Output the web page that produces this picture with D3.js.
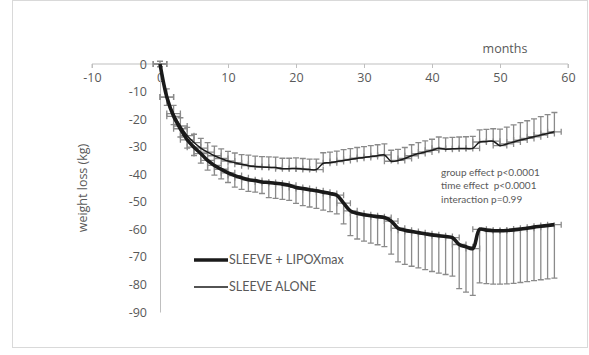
<!DOCTYPE html>
<html>
  <head>
    <meta charset="utf-8">
    <title>weight loss</title>
    <script src="https://d3js.org/d3.v7.min.js"></script>
    <style>
      body { margin: 0; background: #fff; }
    </style>
  </head>
  <body>
    <svg width="589" height="355"></svg>

    <script>
      // data (months after surgery, weight change in kg)
      const months = [0, 1, 2, 3, 4, 5, 6, 7, 8, 9, 10, 11, 12, 13, 14, 15, 16, 17, 18, 19,
        20, 21, 22, 23, 24, 25, 26, 27, 28, 29, 30, 31, 32, 33, 34, 35, 36, 37, 38, 39,
        40, 41, 42, 43, 44, 45, 46, 47, 48, 49, 50, 51, 52, 53, 54, 55, 56, 57, 58];

      const lipox = [0, -12, -19, -23.5, -27.5, -30.2, -32.5, -35, -36.8, -38.2,
        -39.5, -40.5, -41.3, -42, -42.3, -42.8, -43, -43.3, -43.6, -44,
        -44.8, -45.2, -45.6, -46, -46.5, -47, -47.6, -50.5, -53.3, -54.2,
        -54.7, -55.1, -55.4, -55.7, -57, -59.6, -60.3, -60.8, -61.2, -61.6,
        -62, -62.3, -62.6, -63, -65.5, -66.3, -67, -60, -60.3, -60.5,
        -60.5, -60.4, -60.2, -59.9, -59.6, -59.2, -58.9, -58.6, -58.3];
      const lipoxErr = [1, 3, 3, 3, 3, 3, 3.5, 3.5, 3.5, 3.5,
        3.5, 4.2, 4.2, 4.2, 4.2, 4.2, 5.5, 5.5, 5.5, 5.5,
        5.8, 6.2, 6.3, 6.4, 6.5, 6.6, 6.8, 7.5, 9, 9.3,
        9.6, 9.9, 10.2, 10.6, 12, 12.2, 12.4, 12.6, 12.8, 13,
        13.3, 13.6, 13.8, 14, 16, 16.5, 17, 19.4, 19.4, 19.4,
        19.4, 19.4, 19.4, 19.4, 19.4, 19.4, 19.4, 19.4, 19.4];

      const alone = [0, -12, -18, -22.5, -26, -28.5, -30.5, -32, -33.3, -34.3,
        -35.2, -35.8, -36.4, -36.9, -37.2, -37.4, -37.5, -37.6, -38, -38,
        -37.9, -38.1, -38.3, -38.3, -36, -35.8, -35.4, -35, -34.6, -34.2,
        -33.9, -33.6, -33.3, -33, -35.3, -35, -34.3, -33.3, -32.5, -31.9,
        -31.3, -30.6, -30.9, -30.8, -30.7, -30.7, -30.6, -28.3, -28.1, -28,
        -29.6, -29, -28.3, -27.6, -27, -26.4, -25.8, -25.2, -24.6];
      const aloneErr = [1, 3, 3, 3, 3, 3, 3.5, 3.5, 3.5, 3.5,
        3.5, 3.5, 3.5, 3.8, 3.8, 3.8, 3.8, 3.8, 3.8, 3.8,
        3.8, 3.8, 3.8, 3.8, 3.8, 3.8, 3.8, 3.9, 3.9, 3.9,
        3.9, 4, 4, 4, 4, 4, 4, 4, 4, 4,
        4, 4.1, 4.1, 4.2, 4.2, 4.3, 4.3, 4.4, 4.4, 4.5,
        6, 6.1, 6.2, 6.3, 6.4, 6.5, 6.7, 6.8, 7];
      const monthErr = 1;

      const xTicks = [-10, 0, 10, 20, 30, 40, 50, 60];
      const yTicks = [0, -10, -20, -30, -40, -50, -60, -70, -80, -90];
      const seriesNames = ["SLEEVE + LIPOXmax", "SLEEVE ALONE"];
      const notes = ["group effect p<0.0001", "time effect  p<0.0001", "interaction p=0.99"];

      const svg = d3.select("svg");

      // chart border
      svg.append("rect")
        .attr("x", 12.5).attr("y", 0.5)
        .attr("width", 575).attr("height", 347)
        .attr("fill", "none")
        .attr("stroke", "#d9d9d9");

      const x = d3.scaleLinear().domain([-10, 60]).range([92, 568]);
      const y = d3.scaleLinear().domain([-90, 0]).range([312, 64]);

      const textColor = "#595959";
      const axisFont = "'Open Sans', sans-serif";
      const plain = d => String(d); // keep the ascii hyphen like the original

      // x axis along the zero line
      const xAxis = svg.append("g")
        .attr("transform", `translate(0,${y(0)})`)
        .call(d3.axisBottom(x).tickValues(xTicks).tickFormat(plain).tickSize(4).tickPadding(5));
      xAxis.select(".domain").attr("stroke", "#bfbfbf").attr("d", `M${x(-10)},4V0H${x(60)}V4`);
      xAxis.selectAll(".tick line").attr("stroke", "#bfbfbf");
      xAxis.selectAll(".tick text")
        .attr("fill", textColor)
        .style("font-family", axisFont)
        .style("font-size", "12.5px");

      // y axis at month 0
      const yAxis = svg.append("g")
        .attr("transform", `translate(${x(0)},0)`)
        .call(d3.axisLeft(y).tickValues(yTicks).tickFormat(plain).tickSize(0).tickPadding(13));
      yAxis.select(".domain").attr("stroke", "#bfbfbf");
      yAxis.selectAll(".tick text")
        .attr("fill", textColor)
        .style("font-family", axisFont)
        .style("font-size", "12.5px");

      svg.append("text")
        .attr("transform", "translate(83,188) rotate(-90)")
        .attr("text-anchor", "middle")
        .attr("dy", "0.35em")
        .attr("fill", textColor)
        .style("font-family", axisFont)
        .style("font-size", "12.5px")
        .text("weight loss (kg)");

      svg.append("text")
        .attr("x", 505).attr("y", 49)
        .attr("text-anchor", "middle")
        .attr("dy", "0.35em")
        .attr("fill", textColor)
        .style("font-family", axisFont)
        .style("font-size", "12.5px")
        .text("months");

      // error bars: y error one side (down for LIPOX, up for ALONE), x error +-1 month
      const series = [
        { name: seriesNames[0], values: lipox, err: lipoxErr, dir: -1, width: 3.6 },
        { name: seriesNames[1], values: alone, err: aloneErr, dir: 1, width: 1.5 }
      ];
      const errColor = "#8a8a8a";
      const cap = 3;

      series.forEach(s => {
        const pts = months.map((m, i) => ({ m: m, v: s.values[i], e: s.err[i] }));
        const g = svg.append("g")
          .attr("stroke", errColor)
          .attr("stroke-width", 1.3)
          .attr("fill", "none");

        g.selectAll("path.yerr")
          .data(pts)
          .join("path")
          .attr("class", "yerr")
          .attr("d", d => {
            const px = x(d.m);
            const y0 = y(d.v);
            const y1 = y(d.v + s.dir * d.e);
            return `M${px},${y0}V${y1}M${px - cap},${y1}H${px + cap}`;
          });

        g.selectAll("path.xerr")
          .data(pts)
          .join("path")
          .attr("class", "xerr")
          .attr("d", d => {
            const py = y(d.v);
            const xa = x(d.m - monthErr);
            const xb = x(d.m + monthErr);
            return `M${xa},${py}H${xb}M${xa},${py - cap}V${py + cap}M${xb},${py - cap}V${py + cap}`;
          });
      });

      const line = d3.line()
        .x(d => x(d.m))
        .y(d => y(d.v))
        .curve(d3.curveCatmullRom.alpha(0.5));

      series.forEach(s => {
        const pts = months.map((m, i) => ({ m: m, v: s.values[i] }));
        svg.append("path")
          .datum(pts)
          .attr("fill", "none")
          .attr("stroke", "#1a1a1a")
          .attr("stroke-width", s.width)
          .attr("stroke-linejoin", "round")
          .attr("d", line);
      });

      // statistics note
      const note = svg.append("g")
        .attr("fill", textColor)
        .style("font-family", "Lato, sans-serif")
        .style("font-size", "10px");
      notes.forEach((t, i) => {
        note.append("text")
          .attr("x", 441)
          .attr("y", 172 + i * 13.5)
          .attr("dy", "0.35em")
          .style("white-space", "pre")
          .text(t);
      });

      // legend
      const legend = svg.append("g").attr("class", "legend");
      series.forEach((s, i) => {
        const ly = 260 + i * 27;
        legend.append("line")
          .attr("x1", 194).attr("x2", 228)
          .attr("y1", ly).attr("y2", ly)
          .attr("stroke", "#1a1a1a")
          .attr("stroke-width", s.width);
        legend.append("text")
          .attr("x", 229).attr("y", ly)
          .attr("dy", "0.35em")
          .attr("fill", textColor)
          .style("font-family", "Lato, sans-serif")
          .style("font-size", "12.5px")
          .text(s.name);
      });
    </script>
  </body>
</html>
